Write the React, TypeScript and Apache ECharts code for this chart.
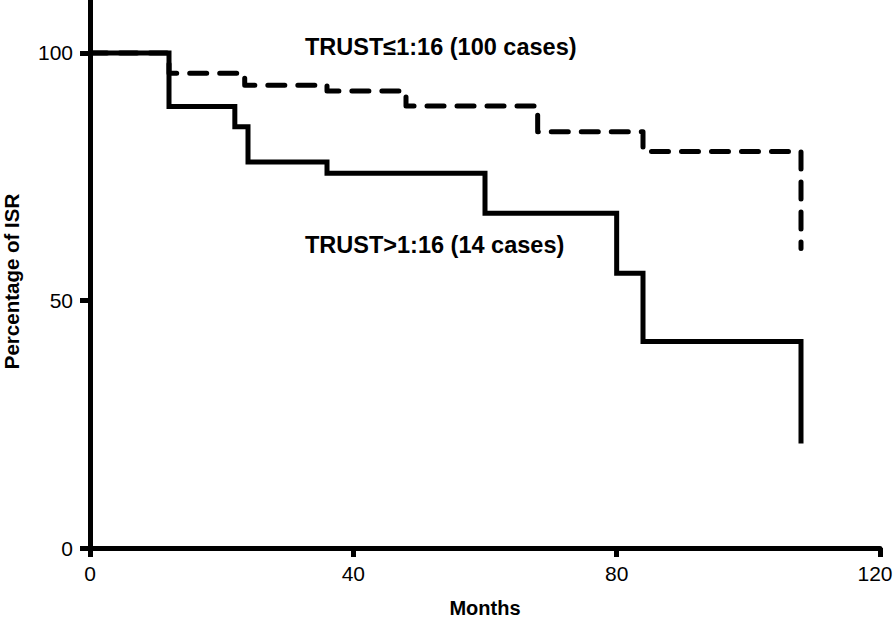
import React, { useEffect, useRef } from "react";
import * as echarts from "echarts";

const monthsLow = [0, 12, 23.5, 36, 48, 68, 84, 108];
const pctLow = [100, 95.9, 93.5, 92.3, 89.3, 84.1, 80.1, 60.5];

const monthsHigh = [0, 12, 22, 24, 36, 60, 80, 84, 108];
const pctHigh = [100, 89.2, 85.1, 78.0, 75.7, 67.6, 55.5, 41.7, 21.1];

const xTicks = [0, 40, 80, 120];
const yTicks = [0, 50, 100];

const labelLow = "TRUST≤1:16 (100 cases)";
const labelHigh = "TRUST>1:16 (14 cases)";

const FONT = "'Liberation Sans', Arial, sans-serif";

export default function App() {
  const ref = useRef<HTMLDivElement>(null);
  useEffect(() => {
    if (!ref.current) return;
    const chart = echarts.init(ref.current, null, { renderer: "svg" });
    const xMax = xTicks[xTicks.length - 1];
    chart.setOption({
      animation: false,
      backgroundColor: "#ffffff",
      grid: { left: 90, right: 16, top: 0, bottom: 72, containLabel: false, outerBoundsMode: "none" },
      xAxis: {
        type: "value",
        min: 0,
        max: xMax,
        interval: 40,
        splitLine: { show: false },
        axisLine: { show: true, onZero: false, lineStyle: { color: "#000", width: 5 } },
        axisTick: { show: true, length: 9, lineStyle: { color: "#000", width: 5 }, customValues: xTicks },
        axisLabel: {
          color: "#000",
          fontSize: 21,
          fontFamily: FONT,
          margin: 15,
          customValues: xTicks,
          formatter: (v: number) => (v === xMax ? `{m|${v}}` : `${v}`),
          rich: { m: { fontSize: 21, fontFamily: FONT, color: "#000", padding: [0, 10, 0, 0] } },
        },
        name: "Months",
        nameLocation: "middle",
        nameGap: 50,
        nameTextStyle: { color: "#000", fontSize: 20, fontWeight: "bold", fontFamily: FONT },
      },
      yAxis: {
        type: "value",
        min: 0,
        max: 110.7,
        splitLine: { show: false },
        axisLine: { show: true, onZero: false, lineStyle: { color: "#000", width: 5 } },
        axisTick: { show: true, length: 10, lineStyle: { color: "#000", width: 5 }, customValues: yTicks },
        axisLabel: { color: "#000", fontSize: 21, fontFamily: FONT, margin: 17, customValues: yTicks },
        name: "Percentage of ISR",
        nameLocation: "middle",
        nameGap: 68,
        nameTextStyle: {
          color: "#000",
          fontSize: 20.5,
          fontWeight: "bold",
          fontFamily: FONT,
          padding: [0, 15, 0, 0],
        },
      },
      series: [
        {
          type: "line",
          step: "end",
          symbol: "none",
          data: monthsLow.map((m, i) => [m, pctLow[i]]),
          lineStyle: { color: "#000", width: 5, type: [17, 13], cap: "round", join: "round" },
        },
        {
          type: "line",
          step: "end",
          symbol: "none",
          data: monthsHigh.map((m, i) => [m, pctHigh[i]]),
          lineStyle: { color: "#000", width: 5, type: "solid", join: "miter" },
        },
      ],
      graphic: [
        {
          type: "text",
          left: 305,
          top: 35,
          style: { text: labelLow, fill: "#000", font: `bold 23.5px ${FONT}` },
        },
        {
          type: "text",
          left: 305,
          top: 233,
          style: { text: labelHigh, fill: "#000", font: `bold 23.5px ${FONT}` },
        },
      ],
    });
    return () => chart.dispose();
  }, []);
  return <div ref={ref} style={{ width: 896, height: 620, position: "absolute", left: 0, top: 0 }} />;
}
